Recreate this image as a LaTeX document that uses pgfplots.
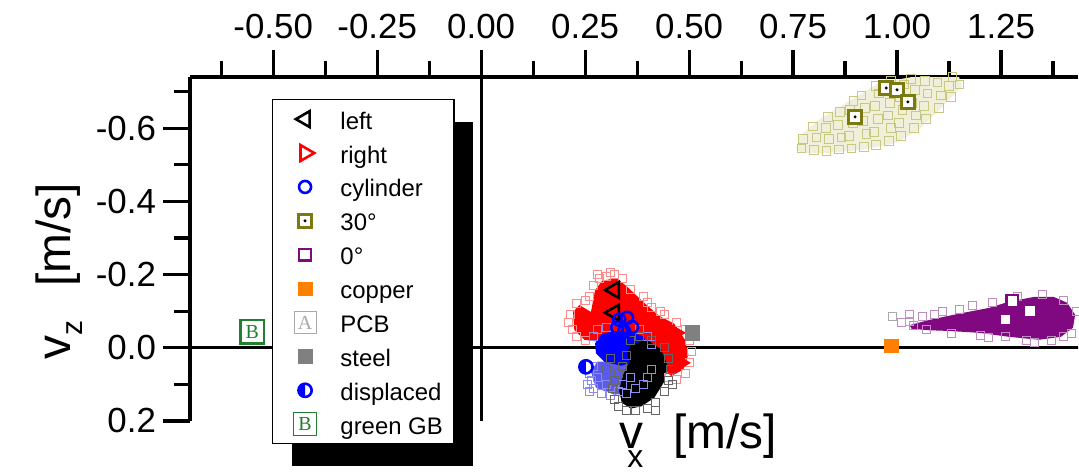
\documentclass[border=0pt]{standalone}
\usepackage{fontspec}
\setmainfont{Liberation Sans}
\newfontfamily\lserif{Liberation Serif}
\usepackage{pgfplots}
\pgfplotsset{compat=1.18}
\usetikzlibrary{shadows}

\definecolor{olv}{RGB}{122,122,16}
\definecolor{olvfill}{RGB}{240,240,218}
\definecolor{olvsq}{RGB}{200,200,130}
\definecolor{purp}{RGB}{128,8,128}
\definecolor{purpl}{RGB}{190,140,190}
\definecolor{copper}{RGB}{255,127,0}
\definecolor{steel}{RGB}{128,128,128}
\definecolor{gbgreen}{RGB}{32,128,48}
\definecolor{pcbgray}{RGB}{170,170,170}
\definecolor{bluel}{RGB}{90,90,235}

% square with a dot (30 deg)
\pgfdeclareplotmark{sqdot}{%
  \pgfpathrectangle{\pgfqpoint{-\pgfplotmarksize}{-\pgfplotmarksize}}{\pgfqpoint{2\pgfplotmarksize}{2\pgfplotmarksize}}%
  \pgfusepathqfillstroke
  \begin{pgfscope}%
  \pgfpathcircle{\pgfpointorigin}{0.25\pgfplotmarksize}%
  \pgfsetfillcolor{black}%
  \pgfusepathqfill
  \end{pgfscope}}
% half filled circle (displaced)
\pgfdeclareplotmark{halfo}{%
  \begin{pgfscope}\pgfsetfillcolor{white}%
  \pgfpathcircle{\pgfpointorigin}{\pgfplotmarksize}\pgfusepathqfill\end{pgfscope}%
  \pgfpathmoveto{\pgfqpoint{0pt}{\pgfplotmarksize}}%
  \pgfpatharc{90}{270}{\pgfplotmarksize}%
  \pgfpathclose\pgfusepathqfill
  \pgfpathcircle{\pgfpointorigin}{\pgfplotmarksize}\pgfusepathqstroke}
% box with a letter (PCB, green GB)
\pgfdeclareplotmark{boxA}{%
  \pgfpathrectangle{\pgfqpoint{-\pgfplotmarksize}{-\pgfplotmarksize}}{\pgfqpoint{2\pgfplotmarksize}{2\pgfplotmarksize}}%
  \pgfusepathqfillstroke
  \pgftext{\color{pcbgray}\lserif\fontsize{10}{10}\selectfont A}}
\pgfdeclareplotmark{boxB}{%
  \pgfpathrectangle{\pgfqpoint{-\pgfplotmarksize}{-\pgfplotmarksize}}{\pgfqpoint{2\pgfplotmarksize}{2\pgfplotmarksize}}%
  \pgfusepathqfillstroke
  \pgftext{\color{gbgreen}\lserif\fontsize{10}{10}\selectfont B}}

\begin{document}
\begin{tikzpicture}
\begin{axis}[
    at={(95bp,-38.5bp)}, anchor=north west,
    scale only axis, width=444bp, height=172bp,
    xmin=-0.7, xmax=1.435, ymin=-0.74, ymax=0.2,
    y dir=reverse,
    axis x line=top, axis y line=left,
    axis line style={-, line width=1.6bp},
    tick align=outside,
    major tick length=13.5bp, minor tick length=8bp,
    tick style={black, line width=1.6bp},
    xtick={-0.5,-0.25,0,0.25,0.5,0.75,1,1.25},
    xticklabels={-0.50,-0.25,0.00,0.25,0.50,0.75,1.00,1.25},
    minor xtick={-0.625,-0.375,-0.125,0.125,0.375,0.625,0.875,1.125,1.375},
    ytick={-0.6,-0.4,-0.2,0,0.2},
    yticklabels={-0.6,-0.4,-0.2,0.0,0.2},
    minor ytick={-0.7,-0.5,-0.3,-0.1,0.1},
    tick label style={font=\fontsize{17.5}{20}\selectfont},
    xticklabel style={yshift=2bp},
    legend cell align=left,
    legend image code/.code={\path (-2bp,0bp) (18bp,0bp); \draw[#1] plot coordinates {(9bp,0bp)};},
    legend style={
        at={(axis description cs:0.0923,0.936)}, anchor=north west,
        draw=black, line width=0.7bp, fill=white,
        font=\fontsize{12}{14}\selectfont,
        inner xsep=4.5bp, inner ysep=2.2bp, row sep=1.95bp,
        nodes={inner sep=1bp, text height=11.5bp, text depth=1.5bp},
        /tikz/every odd column/.append style={column sep=7bp},
        drop shadow={shadow xshift=9.5bp, shadow yshift=-11bp, fill=black, opacity=1},
    },
]
% zero lines
\addplot[forget plot, black, line width=1.6bp] coordinates {(-0.7,0) (1.5,0)};
\addplot[forget plot, black, line width=1.6bp] coordinates {(0,-0.8) (0,0.2)};

% 30 deg cloud
\addplot[forget plot, fill=olvfill, draw=none] coordinates {
    (0.757,-0.541) (0.764,-0.577) (0.812,-0.623) (0.877,-0.669) (0.957,-0.724)
    (1.036,-0.740) (1.094,-0.746) (1.149,-0.740) (1.156,-0.713) (1.101,-0.650)
    (1.053,-0.596) (0.998,-0.560) (0.916,-0.541) (0.837,-0.533) (0.772,-0.533)};
\addplot[forget plot, only marks, mark=square, mark size=2.2bp, olvsq, line width=0.4bp] coordinates {
    (0.770,-0.545) (0.774,-0.570)
    (0.800,-0.540) (0.806,-0.575) (0.798,-0.605)
    (0.830,-0.538) (0.836,-0.570) (0.828,-0.600) (0.834,-0.630)
    (0.860,-0.542) (0.866,-0.575) (0.857,-0.610) (0.863,-0.645)
    (0.890,-0.545) (0.884,-0.580) (0.893,-0.615) (0.887,-0.650) (0.895,-0.675)
    (0.920,-0.550) (0.926,-0.585) (0.917,-0.620) (0.923,-0.655) (0.914,-0.690)
    (0.950,-0.555) (0.944,-0.590) (0.953,-0.625) (0.947,-0.660) (0.956,-0.695) (0.949,-0.715)
    (0.980,-0.565) (0.986,-0.600) (0.977,-0.635) (0.983,-0.670) (0.974,-0.705) (0.985,-0.730)
    (1.010,-0.580) (1.004,-0.615) (1.013,-0.650) (1.007,-0.685) (1.016,-0.720)
    (1.040,-0.600) (1.046,-0.635) (1.037,-0.670) (1.043,-0.705) (1.034,-0.735)
    (1.070,-0.625) (1.064,-0.660) (1.073,-0.695) (1.067,-0.730)
    (1.100,-0.655) (1.106,-0.690) (1.097,-0.725)
    (1.130,-0.685) (1.124,-0.715) (1.133,-0.740) (1.150,-0.720)};

% 0 deg cloud
\addplot[forget plot, only marks, mark=square, mark size=2bp, purpl, line width=0.4bp] coordinates {
    (1.01,-0.07) (1.03,-0.09) (1.04,-0.06) (1.06,-0.085) (1.07,-0.05) (1.09,-0.09)
    (1.11,-0.10) (1.13,-0.04) (1.15,-0.105) (1.18,-0.115) (1.20,-0.035) (1.23,-0.125)
    (1.26,-0.03) (1.29,-0.14) (1.31,-0.02) (1.35,-0.145) (1.37,-0.02) (1.40,-0.13)
    (1.42,-0.04) (1.43,-0.10) (1.40,-0.03) (1.33,-0.015) (1.22,-0.028)};
\addplot[forget plot, fill=purp, draw=none] coordinates {
    (1.030,-0.062) (1.070,-0.074) (1.101,-0.082) (1.161,-0.096) (1.221,-0.109) (1.269,-0.126)
    (1.329,-0.139) (1.377,-0.139) (1.409,-0.123) (1.428,-0.090) (1.423,-0.055)
    (1.394,-0.030) (1.341,-0.022) (1.269,-0.030) (1.197,-0.041) (1.125,-0.046)
    (1.077,-0.048) (1.035,-0.052)};

% right cloud
\addplot[forget plot, only marks, mark=square, mark size=2bp, red!45, line width=0.4bp] coordinates {
    (0.21,-0.07) (0.215,-0.09) (0.22,-0.05) (0.23,-0.12) (0.25,-0.13) (0.26,-0.14)
    (0.27,-0.17) (0.285,-0.19) (0.30,-0.195) (0.32,-0.20) (0.34,-0.19) (0.36,-0.16)
    (0.39,-0.14) (0.41,-0.11) (0.44,-0.09) (0.47,-0.07) (0.49,-0.05) (0.50,-0.02)
    (0.505,0.01) (0.50,0.04) (0.49,0.07) (0.47,0.085) (0.45,0.08) (0.23,-0.03)
    (0.25,-0.02) (0.28,-0.20) (0.31,-0.205) (0.40,-0.125) (0.43,-0.10)};
\addplot[forget plot, fill=red, draw=none] coordinates {
    (0.224,-0.049) (0.221,-0.098) (0.236,-0.117) (0.264,-0.098) (0.274,-0.158)
    (0.291,-0.183) (0.325,-0.191) (0.351,-0.167) (0.392,-0.123) (0.428,-0.087)
    (0.464,-0.066) (0.490,-0.022) (0.498,0.019) (0.486,0.060) (0.457,0.077)
    (0.428,0.046) (0.380,-0.008) (0.284,-0.016) (0.248,-0.022)};

% cylinder cloud
\addplot[forget plot, only marks, mark=square, mark size=2bp, bluel!70, line width=0.4bp] coordinates {
    (0.27,0.05) (0.28,0.08) (0.27,0.11) (0.29,0.125) (0.31,0.13) (0.33,0.12) (0.35,0.125)
    (0.37,0.11) (0.39,0.10) (0.40,0.08) (0.41,0.06) (0.26,0.07) (0.265,0.09) (0.30,0.10)
    (0.32,0.09) (0.34,0.10) (0.36,0.08) (0.27,-0.03) (0.28,-0.05) (0.30,-0.055)
    (0.38,-0.05) (0.40,-0.03) (0.41,-0.01) (0.255,0.10) (0.26,0.12)};
\addplot[forget plot, fill=bluel, draw=none] coordinates {
    (0.279,0.038) (0.344,0.038) (0.399,0.046) (0.409,0.087) (0.380,0.123)
    (0.320,0.128) (0.276,0.109) (0.264,0.066)};
\addplot[forget plot, fill=blue, draw=none] coordinates {
    (0.274,-0.012) (0.290,-0.038) (0.320,-0.046) (0.361,-0.044) (0.392,-0.030)
    (0.399,0.0) (0.380,0.033) (0.337,0.049) (0.296,0.038) (0.276,0.015)};

% left cloud
\addplot[forget plot, only marks, mark=square, mark size=2bp, black!60, line width=0.4bp] coordinates {
    (0.36,-0.02) (0.38,-0.03) (0.41,-0.02) (0.44,0.0) (0.45,0.03) (0.455,0.06) (0.45,0.09)
    (0.44,0.12) (0.42,0.15) (0.40,0.165) (0.37,0.17) (0.35,0.17) (0.33,0.16) (0.32,0.14)
    (0.315,0.11) (0.32,0.09) (0.33,0.07) (0.34,0.05) (0.35,0.02) (0.30,0.06) (0.31,0.03)
    (0.42,0.17) (0.46,0.1)};
\addplot[forget plot, fill=black, draw=none] coordinates {
    (0.361,-0.008) (0.399,-0.022) (0.433,0.005) (0.447,0.046) (0.440,0.093)
    (0.416,0.137) (0.385,0.160) (0.360,0.166) (0.338,0.150) (0.332,0.118) (0.340,0.078)
    (0.356,0.038) (0.351,0.011)};

% measured positions
\addplot[only marks, mark=triangle, mark size=4.6bp, mark options={rotate=90, fill=white}, draw=black, line width=1.3bp]
    coordinates {(0.320,-0.158) (0.320,-0.096)};
\addlegendentry{left}
\addplot[only marks, mark=triangle, mark size=4.6bp, mark options={rotate=-90, fill=white}, draw=red, line width=1.3bp]
    coordinates {(0.464,-0.041) (0.476,0.041)};
\addlegendentry{right}
\addplot[only marks, mark=o, mark size=3bp, mark options={fill=white}, draw=blue, line width=1.3bp]
    coordinates {(0.332,-0.077) (0.351,-0.082) (0.363,-0.057) (0.344,-0.044) (0.327,-0.055)};
\addlegendentry{cylinder}
\addplot[only marks, mark=sqdot, mark size=3.3bp, mark options={fill=white}, draw=olv, line width=1.4bp]
    coordinates {(0.899,-0.631) (0.974,-0.710) (1.000,-0.705) (1.026,-0.672)};
\addlegendentry{30°}
\addplot[only marks, mark=square*, mark size=2.9bp, mark options={fill=white}, draw=purp, line width=1.1bp]
    coordinates {(1.277,-0.128) (1.320,-0.101) (1.260,-0.077)};
\addlegendentry{0°}
\addplot[only marks, mark=square*, mark size=3.4bp, draw=copper, fill=copper, line width=0.3bp]
    coordinates {(0.986,-0.006)};
\addlegendentry{copper}
\addplot[only marks, mark=square, mark size=2bp, draw=pcbgray, line width=0.5bp,
    legend image post style={mark=boxA, mark size=5.5bp, mark options={fill=white}}]
    coordinates {(0.988,-0.085) (1.030,-0.072)};
\addlegendentry{PCB}
\addplot[only marks, mark=square*, mark size=3.6bp, draw=steel, fill=steel, line width=0.3bp]
    coordinates {(0.507,-0.041)};
\addlegendentry{steel}
\addplot[only marks, mark=halfo, mark size=3.3bp, draw=blue, fill=blue, line width=1.3bp]
    coordinates {(0.252,0.052)};
\addlegendentry{displaced}
\addplot[only marks, mark=boxB, mark size=5.8bp, mark options={fill=white}, draw=gbgreen, line width=1.3bp,
    legend image post style={line width=0.5bp}]
    coordinates {(-0.550,-0.044)};
\addlegendentry{green GB}
\end{axis}
\node[anchor=base west, inner sep=0pt, font=\fontsize{24}{28}\selectfont] at (309.5bp,-224bp)
    {v\kern-8bp\raisebox{-9.5bp}{\fontsize{16}{18}\selectfont x}\kern15bp[m/s]};
\node[anchor=base west, inner sep=0pt, rotate=90, font=\fontsize{24}{28}\selectfont] at (35bp,-180bp)
    {v\raisebox{-6bp}{\fontsize{15}{17}\selectfont z}\kern17bp[m/s]};
\pgfresetboundingbox
\path[use as bounding box] (0,0) rectangle (539.5bp,-236bp);
\end{tikzpicture}
\end{document}
